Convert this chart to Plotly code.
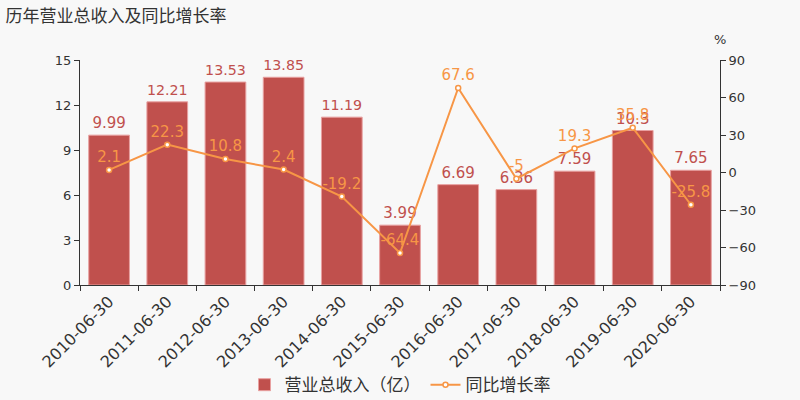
import plotly.graph_objects as go

categories = ["2010-06-30", "2011-06-30", "2012-06-30", "2013-06-30", "2014-06-30",
              "2015-06-30", "2016-06-30", "2017-06-30", "2018-06-30", "2019-06-30", "2020-06-30"]
revenue = [9.99, 12.21, 13.53, 13.85, 11.19, 3.99, 6.69, 6.36, 7.59, 10.3, 7.65]
growth = [2.1, 22.3, 10.8, 2.4, -19.2, -64.4, 67.6, -5, 19.3, 35.8, -25.8]

bar_color = "#c0504d"
line_color = "#f79646"
font_family = "DejaVu Sans, Noto Sans CJK SC, sans-serif"

fig = go.Figure()
fig.add_trace(go.Bar(
    x=categories, y=revenue, name="营业总收入（亿）",
    marker=dict(color=bar_color, line=dict(color="#e8a0a0", width=1)),
    text=[f"{v:g}" for v in revenue], textposition="outside",
    textfont=dict(color=bar_color, size=15), cliponaxis=False,
    yaxis="y",
))
fig.add_trace(go.Scatter(
    x=categories, y=growth, name="同比增长率", mode="lines+markers+text",
    line=dict(color=line_color, width=2),
    marker=dict(size=5, color="white", line=dict(color=line_color, width=1.5)),
    text=[f"{v:g}" for v in growth], textposition="top center",
    textfont=dict(color=line_color, size=15), cliponaxis=False,
    yaxis="y2",
))

fig.update_layout(
    width=800, height=400,
    paper_bgcolor="#f8f8f8", plot_bgcolor="#f8f8f8",
    margin=dict(l=80, r=80, t=60, b=115, autoexpand=False),
    font=dict(family=font_family, color="#333"),
    title=dict(text="历年营业总收入及同比增长率", x=0.007, y=0.975, xanchor="left", yanchor="top",
               font=dict(size=17, color="#333", family="Noto Sans CJK SC, sans-serif")),
    bargap=0.3,
    showlegend=True,
    legend=dict(orientation="h", x=0.5, xanchor="center", y=-0.445, yanchor="middle",
                font=dict(size=17, color="#333", family="Noto Sans CJK SC, sans-serif"),
                bgcolor="rgba(0,0,0,0)"),
    xaxis=dict(type="category", range=[-0.5, 10.5], tickangle=-45, tickson="boundaries",
               tickfont=dict(size=16, color="#333"), showline=True,
               linecolor="#333", ticks="outside", ticklen=5, tickcolor="#333", showgrid=False,
               automargin=False),
    yaxis=dict(range=[0, 15], dtick=3, showgrid=False, showline=True, linecolor="#333",
               ticks="outside", ticklen=5, tickcolor="#333", tickfont=dict(size=13, color="#333"),
               zeroline=False, automargin=False),
    yaxis2=dict(range=[-90, 90], dtick=30, overlaying="y", side="right", showgrid=False,
                showline=True, linecolor="#333", ticks="outside", ticklen=5, tickcolor="#333",
                tickfont=dict(size=13, color="#333"), zeroline=False, automargin=False),
    annotations=[dict(text="%", x=1.0, y=1.05, xref="paper", yref="paper", xanchor="center",
                      yanchor="bottom", showarrow=False, font=dict(size=13, color="#333"))],
)

fig.write_html("out.html")
